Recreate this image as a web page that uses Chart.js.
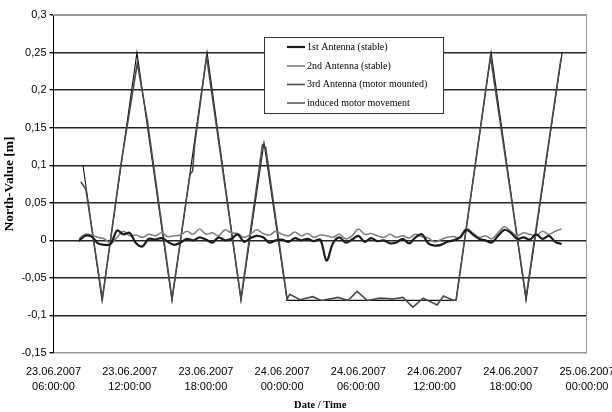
<!DOCTYPE html>
<html>
<head>
<meta charset="utf-8">
<script src="https://cdn.jsdelivr.net/npm/chart.js@4.4.1/dist/chart.umd.min.js"></script>
<style>
  body { margin: 0; background: #fff; }
  #wrap { width: 612px; height: 412px; position: relative; }
</style>
</head>
<body>
<div id="wrap"><canvas id="northChart"></canvas></div>
<script>
// hours counted from 23.06.2007 00:00:00
const xTicks = [6, 12, 18, 24, 30, 36, 42, 48];
const yTicks = [-0.15, -0.1, -0.05, 0, 0.05, 0.1, 0.15, 0.2, 0.25, 0.3];

const seriesNames = [
  "1st Antenna (stable)",
  "2nd Antenna (stable)",
  "3rd Antenna (motor mounted)",
  "induced motor movement"
];

// stable antennas, half-hour samples
const stableTimes = [8, 8.5, 9, 9.5, 10, 10.5, 11, 11.5, 12, 12.5, 13, 13.5, 14, 14.5, 15, 15.5,
  16, 16.5, 17, 17.5, 18, 18.5, 19, 19.5, 20, 20.5, 21, 21.5, 22, 22.5, 23, 23.5, 24, 24.5,
  25, 25.5, 26, 26.5, 27, 27.5, 28, 28.5, 29, 29.5, 30, 30.5, 31, 31.5, 32, 32.5, 33, 33.5,
  34, 34.5, 35, 35.5, 36, 36.5, 37, 37.5, 38, 38.5, 39, 39.5, 40, 40.5, 41, 41.5, 42, 42.5,
  43, 43.5, 44, 44.5, 45, 45.5, 46];
const ant1Values = [-0.001, 0.006, 0.005, -0.004, -0.006, -0.005, 0.013, 0.008, 0.010, -0.004,
  -0.008, 0.002, 0.001, 0.003, -0.002, -0.006, -0.003, 0.002, 0.000, 0.004, 0.001, -0.003,
  0.004, 0.000, 0.002, 0.008, -0.002, 0.003, 0.006, 0.004, -0.003, 0.000, 0.001, -0.002,
  0.003, 0.000, 0.002, -0.001, 0.001, -0.027, -0.004, 0.004, -0.003, 0.001, 0.006, -0.002,
  0.003, -0.001, 0.000, -0.004, -0.003, 0.002, -0.004, 0.004, 0.008, -0.004, -0.007, -0.006,
  -0.002, 0.000, 0.004, 0.014, 0.008, 0.002, 0.000, -0.003, 0.006, 0.014, 0.010, 0.002,
  0.004, 0.001, 0.008, 0.002, 0.006, -0.002, -0.005];
const ant2Values = [0.002, 0.008, 0.007, 0.004, 0.002, -0.004, 0.004, 0.012, 0.006, 0.007,
  0.004, 0.008, 0.006, 0.010, 0.005, 0.006, 0.007, 0.012, 0.008, 0.015, 0.008, 0.010,
  0.006, 0.014, 0.010, 0.009, 0.004, 0.008, 0.014, 0.009, 0.007, 0.012, 0.008, 0.006,
  0.011, 0.006, 0.009, 0.004, 0.007, 0.006, 0.004, 0.008, 0.002, 0.006, 0.015, 0.008,
  0.009, 0.006, 0.004, 0.008, 0.004, 0.006, 0.003, 0.008, 0.005, 0.003, -0.002, 0.001,
  0.004, 0.005, 0.003, 0.016, 0.010, 0.004, 0.006, 0.002, 0.010, 0.018, 0.012, 0.006,
  0.010, 0.008, 0.006, 0.012, 0.008, 0.012, 0.015];

// 3rd antenna (on the motor)
const ant3Times = [8.15, 8.55, 9.85, 11.3, 12.6, 13.4, 15.33, 16.75, 16.95, 17.1, 18.05, 20.76,
  22.45, 22.7, 24.39, 24.6, 25.4, 26.4, 27.1, 28.4, 29.2, 29.9, 30.7, 31.7, 32.7, 33.5, 34.3,
  35.1, 35.6, 36.2, 36.7, 37.5, 37.7, 39.2, 40.4, 43.2, 45.95];
const ant3Values = [0.078, 0.068, -0.078, 0.100, 0.236, 0.158, -0.078, 0.088, 0.092, 0.125, 0.245,
  -0.078, 0.127, 0.124, -0.078, -0.072, -0.079, -0.075, -0.080, -0.076, -0.080, -0.068, -0.080,
  -0.077, -0.078, -0.076, -0.089, -0.077, -0.081, -0.086, -0.074, -0.080, -0.079, 0.100, 0.245,
  -0.076, 0.242];

// induced motor movement (turning points)
const motorTimes = [8.32, 9.82, 12.57, 15.33, 18.09, 20.76, 22.57, 24.39, 37.69, 40.45, 43.2, 46.04];
const motorValues = [0.1, -0.08, 0.25, -0.08, 0.25, -0.08, 0.13, -0.08, -0.08, 0.25, -0.08, 0.25];

function toPoints(times, values) {
  return times.map((t, i) => ({ x: t, y: values[i] }));
}

function pad(n) {
  return (n < 10 ? "0" : "") + n;
}

function dateLabel(h) {
  const day = 23 + Math.floor(h / 24);
  const hr = h % 24;
  return [pad(day) + ".06.2007", pad(hr) + ":00:00"];
}

const lineStyles = [
  { color: "#1c1c1c", width: 2.2 },
  { color: "#808080", width: 1.6 },
  { color: "#4a4a4a", width: 1.6 },
  { color: "#111111", width: 1.1 }
];

// plot frame + boxed legend
const framePlugin = {
  id: "frame",
  beforeDatasetsDraw(chart) {
    const a = chart.chartArea;
    const c = chart.ctx;
    c.save();
    c.strokeStyle = "#999";
    c.lineWidth = 1;
    c.beginPath();
    c.moveTo(a.left, a.top + 0.5);
    c.lineTo(a.right - 0.5, a.top + 0.5);
    c.lineTo(a.right - 0.5, a.bottom);
    c.stroke();
    c.restore();
  },
  afterDraw(chart) {
    const c = chart.ctx;
    c.save();
    c.fillStyle = "#fff";
    c.fillRect(264.5, 37.5, 179, 76);
    c.strokeStyle = "#333";
    c.lineWidth = 1;
    c.strokeRect(264.5, 37.5, 179, 76);
    const rows = [47, 66, 84.5, 103];
    c.font = "10px 'Liberation Serif'";
    c.textBaseline = "middle";
    seriesNames.forEach((name, i) => {
      c.strokeStyle = lineStyles[i].color;
      c.lineWidth = lineStyles[i].width;
      c.beginPath();
      c.moveTo(287, rows[i]);
      c.lineTo(305, rows[i]);
      c.stroke();
      c.fillStyle = "#000";
      c.fillText(name, 307, rows[i]);
    });
    c.restore();
  }
};

const datasets = [
  toPoints(stableTimes, ant1Values),
  toPoints(stableTimes, ant2Values),
  toPoints(ant3Times, ant3Values),
  toPoints(motorTimes, motorValues)
].map((pts, i) => ({
  label: seriesNames[i],
  data: pts,
  borderColor: lineStyles[i].color,
  borderWidth: lineStyles[i].width,
  pointRadius: 0,
  fill: false,
  tension: i < 2 ? 0.35 : 0
}));

new Chart(document.getElementById("northChart"), {
  type: "line",
  data: { datasets: datasets },
  options: {
    responsive: true,
    maintainAspectRatio: false,
    animation: false,
    layout: { padding: { top: 15, right: 25, left: 0, bottom: 0 } },
    plugins: {
      legend: { display: false },
      tooltip: { enabled: false }
    },
    scales: {
      x: {
        type: "linear",
        min: 6,
        max: 48,
        afterBuildTicks: (s) => { s.ticks = xTicks.map(v => ({ value: v })); },
        afterFit: (s) => { s.height = 59; s.paddingLeft = 0; s.paddingRight = 0; },
        grid: { display: false, drawTicks: false },
        border: { display: false },
        ticks: {
          autoSkip: false,
          maxRotation: 0,
          padding: 11,
          color: "#000",
          font: { family: "'Liberation Sans'", size: 11, lineHeight: 1.4 },
          callback: (v) => dateLabel(v)
        },
        title: {
          display: true,
          text: "Date / Time",
          color: "#000",
          padding: 0,
          font: { family: "'Liberation Serif'", size: 10.5, weight: "bold" }
        }
      },
      y: {
        min: -0.15,
        max: 0.3,
        afterBuildTicks: (s) => { s.ticks = yTicks.map(v => ({ value: v })); },
        afterFit: (s) => { s.width = 53.5; },
        grid: {
          color: (ctx) => (ctx.tick && (ctx.tick.value > 0.29 || ctx.tick.value < -0.14)) ? "#999" : "#262626",
          lineWidth: 1.4,
          tickLength: 4,
          tickColor: "#000"
        },
        border: { color: "#000", width: 1 },
        ticks: {
          padding: 3,
          color: "#000",
          font: { family: "'Liberation Sans'", size: 11 },
          callback: (v) => String(Math.round(v * 100) / 100).replace(".", ",")
        },
        title: {
          display: true,
          text: "North-Value [m]",
          color: "#000",
          padding: 1,
          font: { family: "'Liberation Serif'", size: 13.5, weight: "bold" }
        }
      }
    }
  },
  plugins: [framePlugin]
});
</script>
</body>
</html>
